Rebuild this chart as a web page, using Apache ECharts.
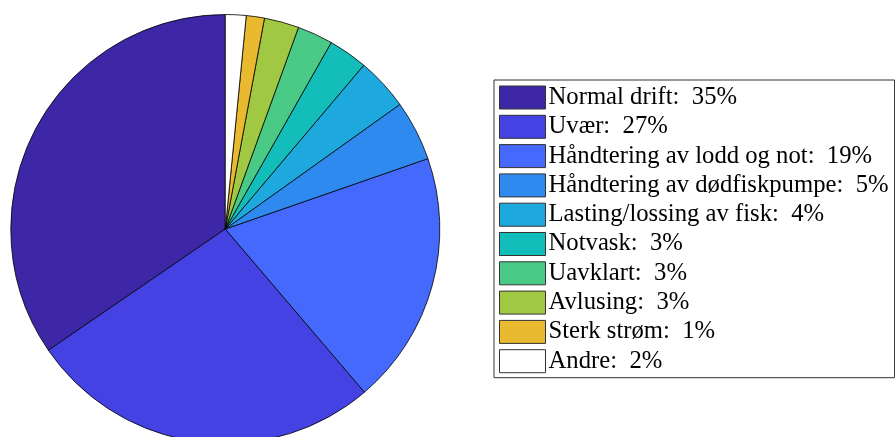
<!DOCTYPE html>
<html>
<head>
<meta charset="utf-8">
<script src="https://cdn.jsdelivr.net/npm/echarts@6/dist/echarts.min.js"></script>
<style>
html,body{margin:0;padding:0;background:#fff;}
#chart{width:895px;height:437px;}
</style>
</head>
<body>
<div id="chart"></div>
<script>
const categories = ["Normal drift", "Uvær", "Håndtering av lodd og not", "Håndtering av dødfiskpumpe", "Lasting/lossing av fisk", "Notvask", "Uavklart", "Avlusing", "Sterk strøm", "Andre"];
const values = [34.6, 26.7, 19.1, 4.55, 3.97, 2.95, 2.68, 2.62, 1.37, 1.56];
const pctLabels = ["35%", "27%", "19%", "5%", "4%", "3%", "3%", "3%", "1%", "2%"];
const colors = ["#3D27A6", "#4542E4", "#4469FC", "#2F8AF0", "#1DA9DD", "#13BDBA", "#49CA86", "#A1C843", "#E9BA30", "#FFFFFF"];

const chart = echarts.init(document.getElementById('chart'), null, {renderer: 'canvas'});
const labelMap = {};
categories.forEach((c, i) => labelMap[c] = c + ':  ' + pctLabels[i]);

chart.setOption({
  animation: false,
  backgroundColor: '#ffffff',
  legend: {
    orient: 'vertical',
    left: 494,
    top: 80,
    padding: [5, 6, 4, 5],
    itemWidth: 46,
    itemHeight: 23,
    itemGap: 4.3,
    icon: 'rect',
    borderColor: '#333',
    borderWidth: 1,
    backgroundColor: '#fff',
    selectedMode: false,
    itemStyle: {borderColor: '#333', borderWidth: 1},
    textStyle: {fontFamily: 'Liberation Serif', fontSize: 24.7, lineHeight: 23, color: '#000', padding: [0, 0, 0, -2]},
    formatter: name => labelMap[name],
    data: categories
  },
  series: [{
    type: 'pie',
    center: [225.3, 229],
    radius: [0, 214.5],
    startAngle: 90,
    clockwise: false,
    label: {show: false},
    labelLine: {show: false},
    emphasis: {disabled: true},
    itemStyle: {borderColor: '#000', borderWidth: 0.8},
    data: categories.map((c, i) => ({name: c, value: values[i], itemStyle: {color: colors[i]}}))
  }]
});
</script>
</body>
</html>
